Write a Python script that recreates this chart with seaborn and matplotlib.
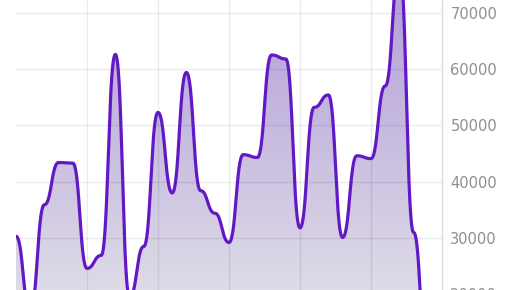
import numpy as np
import pandas as pd
import matplotlib
matplotlib.use("Agg")
import matplotlib.pyplot as plt
import seaborn as sns
from matplotlib.colors import LinearSegmentedColormap

# ---- data ----
point_index = list(range(31))
values = [30300, 17000, 35900, 43400, 43300, 24600, 26900, 62600, 19500, 28500,
          52300, 38000, 59400, 38400, 34400, 29200, 44800, 44300, 62500, 61800,
          31800, 53200, 55400, 30100, 44600, 44100, 57000, 78000, 31000, 6000, 5000]
y_ticks = [20000, 30000, 40000, 50000, 60000, 70000]
y_tick_labels = ["20000", "30000", "40000", "50000", "60000", "70000"]
x_grid = [5, 10, 15, 20, 25]

LINE = "#6218c4"
TEXT = "#8e8e93"


def horizontal_bezier(xs, ys, steps=60):
    """Cubic bezier per segment with control points at the horizontal midpoint
    (flat tangent at every data point)."""
    xs = np.asarray(xs, float)
    ys = np.asarray(ys, float)
    out_x, out_y = [], []
    for i in range(len(xs) - 1):
        t = np.linspace(0, 1, steps, endpoint=(i == len(xs) - 2))
        x0, x1, y0, y1 = xs[i], xs[i + 1], ys[i], ys[i + 1]
        xm = (x0 + x1) / 2
        b0 = (1 - t) ** 3
        b1 = 3 * t * (1 - t) ** 2
        b2 = 3 * t ** 2 * (1 - t)
        b3 = t ** 3
        out_x.append(b0 * x0 + b1 * xm + b2 * xm + b3 * x1)
        out_y.append(b0 * y0 + b1 * y0 + b2 * y1 + b3 * y1)
    return np.concatenate(out_x), np.concatenate(out_y)


cx, cy = horizontal_bezier(point_index, values)
curve = pd.DataFrame({"x": cx, "y": cy})

sns.set_theme(style="white")
plt.rcParams["font.family"] = ["DejaVu Sans"]

W, H = 516, 290
fig = plt.figure(figsize=(W / 100, H / 100), dpi=100)
fig.patch.set_facecolor("white")

px_per_unit = 5.63 / 1000.0
y_top = 72270
y_bot = 0
ax_h_px = (y_top - y_bot) * px_per_unit
ax = fig.add_axes([16 / W, (H - ax_h_px) / H, 426 / W, ax_h_px / H])
ax.set_xlim(0, 30)
ax.set_ylim(y_bot, y_top)

# gradient fill under the curve
poly = ax.fill_between(curve["x"], curve["y"], y_bot, color="none", lw=0)
cmap = LinearSegmentedColormap.from_list("g", ["#dedbe7", "#b4a0d9"])
vis_lo, vis_hi = 20765, 72270
grad = np.linspace(0, 1, 256).reshape(-1, 1)
im = ax.imshow(grad, extent=[0, 30, vis_lo, vis_hi], origin="lower",
               aspect="auto", cmap=cmap, zorder=1)
im2 = ax.imshow(np.zeros((2, 1)), extent=[0, 30, y_bot, vis_lo], origin="lower",
                aspect="auto", cmap=LinearSegmentedColormap.from_list("h", ["#dedbe7", "#dedbe7"]),
                zorder=1)
path = poly.get_paths()[0]
im.set_clip_path(path, transform=ax.transData)
im2.set_clip_path(path, transform=ax.transData)

# grid (drawn over the fill, faint)
for v in y_ticks:
    ax.axhline(v, color=(0, 0, 0, 0.075), lw=1.0, zorder=2)
for xv in x_grid:
    ax.axvline(xv, color=(0, 0, 0, 0.075), lw=1.0, zorder=2)

sns.lineplot(data=curve, x="x", y="y", ax=ax, color=LINE, lw=2.3, sort=False, zorder=3)

ax.set_xlim(0, 30)
ax.set_ylim(y_bot, y_top)

for side in ["top", "left", "bottom"]:
    ax.spines[side].set_visible(False)
ax.spines["right"].set_color("#d9d9dc")
ax.spines["right"].set_linewidth(1.0)

ax.yaxis.tick_right()
ax.set_yticks(y_ticks)
ax.set_yticklabels(y_tick_labels)
ax.tick_params(axis="y", length=0, pad=6, labelsize=10.5, labelcolor=TEXT)
ax.set_xticks([])
ax.set_xlabel("")
ax.set_ylabel("")
ax.grid(False)

fig.savefig("out.png", dpi=100, facecolor="white")
